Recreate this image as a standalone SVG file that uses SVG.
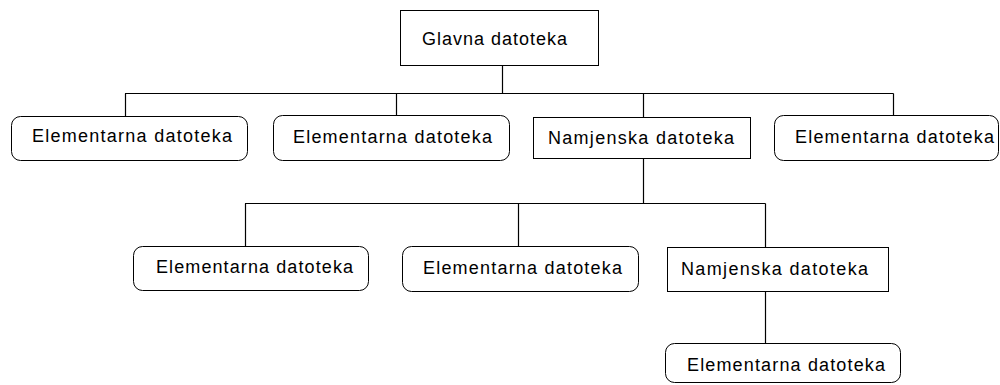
<svg xmlns="http://www.w3.org/2000/svg" width="1000" height="385" viewBox="0 0 1000 385">
<style>
.box{fill:#fff;stroke:#000;stroke-width:1}
.conn line{stroke:#000;stroke-width:1.2}
text{font-family:"Liberation Sans",Arial,sans-serif;font-size:18px;fill:#000}
</style>
<rect width="1000" height="385" fill="#fff"/>
<g id="connectors" class="conn">
<line x1="502.5" y1="65" x2="502.5" y2="93.5"/>
<line x1="125" y1="93.5" x2="893.5" y2="93.5"/>
<line x1="125.5" y1="93.5" x2="125.5" y2="116"/>
<line x1="396.5" y1="93.5" x2="396.5" y2="115"/>
<line x1="643.5" y1="93.5" x2="643.5" y2="117"/>
<line x1="893.5" y1="93.5" x2="893.5" y2="115"/>
<line x1="643.5" y1="158" x2="643.5" y2="203.5"/>
<line x1="245" y1="203.5" x2="765.5" y2="203.5"/>
<line x1="245.5" y1="203.5" x2="245.5" y2="246"/>
<line x1="518.5" y1="203.5" x2="518.5" y2="246"/>
<line x1="765.5" y1="203.5" x2="765.5" y2="247"/>
<line x1="765.5" y1="291" x2="765.5" y2="343"/>
</g>
<g id="glavna">
<rect class="box" x="400.5" y="10.5" width="198" height="55"/>
<text x="422" y="45" textLength="145" lengthAdjust="spacing">Glavna datoteka</text>
</g>
<g id="el1">
<rect class="box" x="11.5" y="116.5" width="236" height="44" rx="9"/>
<text x="32" y="142" textLength="200" lengthAdjust="spacing">Elementarna datoteka</text>
</g>
<g id="el2">
<rect class="box" x="273.5" y="115.5" width="236" height="45" rx="9"/>
<text x="293" y="143" textLength="199" lengthAdjust="spacing">Elementarna datoteka</text>
</g>
<g id="nam1">
<rect class="box" x="533.5" y="117.5" width="217" height="41"/>
<text x="548" y="144" textLength="186" lengthAdjust="spacing">Namjenska datoteka</text>
</g>
<g id="el3">
<rect class="box" x="774.5" y="115.5" width="224" height="45" rx="9"/>
<text x="795" y="143" textLength="199" lengthAdjust="spacing">Elementarna datoteka</text>
</g>
<g id="el4">
<rect class="box" x="133.5" y="246.5" width="235" height="44" rx="9"/>
<text x="156" y="273" textLength="197" lengthAdjust="spacing">Elementarna datoteka</text>
</g>
<g id="el5">
<rect class="box" x="402.5" y="246.5" width="236" height="45" rx="9"/>
<text x="423" y="274" textLength="199" lengthAdjust="spacing">Elementarna datoteka</text>
</g>
<g id="nam2">
<rect class="box" x="667.5" y="247.5" width="221" height="44"/>
<text x="681" y="275" textLength="187" lengthAdjust="spacing">Namjenska datoteka</text>
</g>
<g id="el6">
<rect class="box" x="665.5" y="343.5" width="235" height="39" rx="9"/>
<text x="687" y="371" textLength="198" lengthAdjust="spacing">Elementarna datoteka</text>
</g>
</svg>
